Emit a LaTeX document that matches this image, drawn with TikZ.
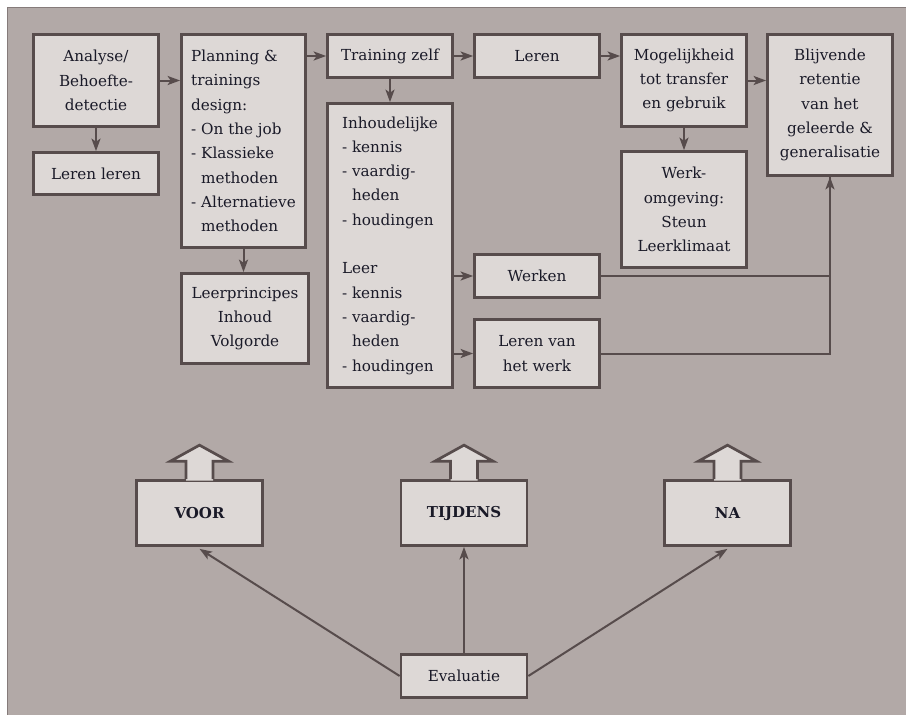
\documentclass[tikz,border=0pt]{standalone}
\usepackage{fontspec}
\setmainfont{DejaVu Serif}
\usetikzlibrary{arrows.meta,calc}
\definecolor{bg}{HTML}{B2A9A7}
\definecolor{boxfill}{HTML}{DDD8D6}
\definecolor{edge}{HTML}{574C4C}
\definecolor{ink}{HTML}{1A1A28}
\definecolor{frameline}{HTML}{857B7A}
\newcommand\ind{\hphantom{-\ }}
\begin{document}
\begin{tikzpicture}[x=1pt,y=-1pt,
  box/.style={draw=edge, fill=boxfill, line width=2.7pt, inner sep=0pt,
    text=ink, font=\fontsize{15.2}{24.3}\selectfont, align=center},
  lbox/.style={box, align=left},
  wbox/.style={box, minimum width=125pt},
  tagbox/.style={box, minimum width=126pt, minimum height=65pt,
    font=\fontsize{15}{20}\selectfont\bfseries},
  arr/.style={draw=edge, line width=2pt,
    -{Stealth[length=12.5pt,width=9pt,inset=3pt]}},
  link/.style={draw=edge, line width=2pt},
  uparrowline/.style={draw=edge, line width=2.7pt, line join=miter}]

\useasboundingbox (0,0) rectangle (906,715);
% page and panel background
\fill[white] (0,0) rectangle (906,715);
\fill[bg] (7,7) rectangle (906,715);
\draw[frameline, line width=1pt] (7.5,715) -- (7.5,7.5) -- (906,7.5);

% top row
\node[wbox, minimum height=92pt] (ana) at (96,80.5) {Analyse/\\Behoefte-\\detectie};
\node[wbox, minimum height=42pt] (lerenleren) at (96,173.5) {Leren leren};
\node[lbox, minimum width=124pt, minimum height=213pt] (plan) at (243.5,141)
  {Planning \&\\trainings\\design:\\- On the job\\- Klassieke\\\ind methoden\\- Alternatieve\\\ind methoden};
\node[box, minimum width=127pt, minimum height=90pt] (lprinc) at (245,318.5)
  {Leerprincipes\\Inhoud\\Volgorde};
\node[wbox, minimum height=43pt] (tz) at (390,56) {Training zelf};
\node[lbox, minimum width=125pt, minimum height=284pt] (inh) at (390,245.5)
  {Inhoudelijke\\- kennis\\- vaardig-\\\ind heden\\- houdingen\\[24.3pt]Leer\\- kennis\\- vaardig-\\\ind heden\\- houdingen};
\node[wbox, minimum height=43pt] (leren) at (537,56) {Leren};
\node[wbox, minimum height=43pt] (werken) at (537,276) {Werken};
\node[wbox, minimum height=68pt] (lvhw) at (537,353.5) {Leren van\\het werk};
\node[wbox, minimum height=92pt] (mog) at (684,80.5) {Mogelijkheid\\tot transfer\\en gebruik};
\node[wbox, minimum height=116pt] (werkom) at (684,209.5) {Werk-\\omgeving:\\Steun\\Leerklimaat};
\node[wbox, minimum height=141pt] (blijv) at (830,105)
  {Blijvende\\retentie\\van het\\geleerde \&\\generalisatie};

% flow connectors
\draw[arr] (ana.east) -- (ana.east -| plan.west);
\draw[arr] (plan.east |- tz) -- (tz.west);
\draw[arr] (tz) -- (leren);
\draw[arr] (leren.east) -- (leren.east -| mog.west);
\draw[arr] (mog.east) -- (mog.east -| blijv.west);
\draw[arr] (ana) -- (lerenleren);
\draw[arr] (plan.south) -- (plan.south |- lprinc.north);
\draw[arr] (tz) -- (inh);
\draw[arr] (mog) -- (werkom);
\draw[arr] (inh.east |- werken) -- (werken.west);
\draw[arr] (inh.east |- lvhw) -- (lvhw.west);
\draw[link] (lvhw.east) -| (blijv.south);
\draw[arr] (werken.east) -| (blijv.south);

% evaluation moments
\node[tagbox] (voor) at (199.5,513) {VOOR};
\node[tagbox] (tijdens) at (464,513) {TIJDENS};
\node[tagbox] (na) at (727.5,513) {NA};
\node[box, minimum width=126pt, minimum height=43pt] (eval) at (464,676) {Evaluatie};

% hollow up-arrows opening out of the tag boxes
\foreach \n in {voor,tijdens,na} {
  \fill[boxfill] ($(\n.north)+(-13.5,1.5)$) -- ($(\n.north)+(-13.5,-18)$)
    -- ($(\n.north)+(-29,-18)$) -- ($(\n.north)+(0,-34)$)
    -- ($(\n.north)+(29,-18)$) -- ($(\n.north)+(13.5,-18)$)
    -- ($(\n.north)+(13.5,1.5)$) -- cycle;
  \draw[uparrowline] ($(\n.north)+(-13.5,0)$) -- ($(\n.north)+(-13.5,-18)$)
    -- ($(\n.north)+(-29,-18)$) -- ($(\n.north)+(0,-34)$)
    -- ($(\n.north)+(29,-18)$) -- ($(\n.north)+(13.5,-18)$)
    -- ($(\n.north)+(13.5,0)$);
}

\draw[arr] (eval.west) -- ($(voor.south)+(0,2)$);
\draw[arr] (eval.north) -- (tijdens.south);
\draw[arr] (eval.east) -- ($(na.south)+(0,2)$);
\end{tikzpicture}
\end{document}
